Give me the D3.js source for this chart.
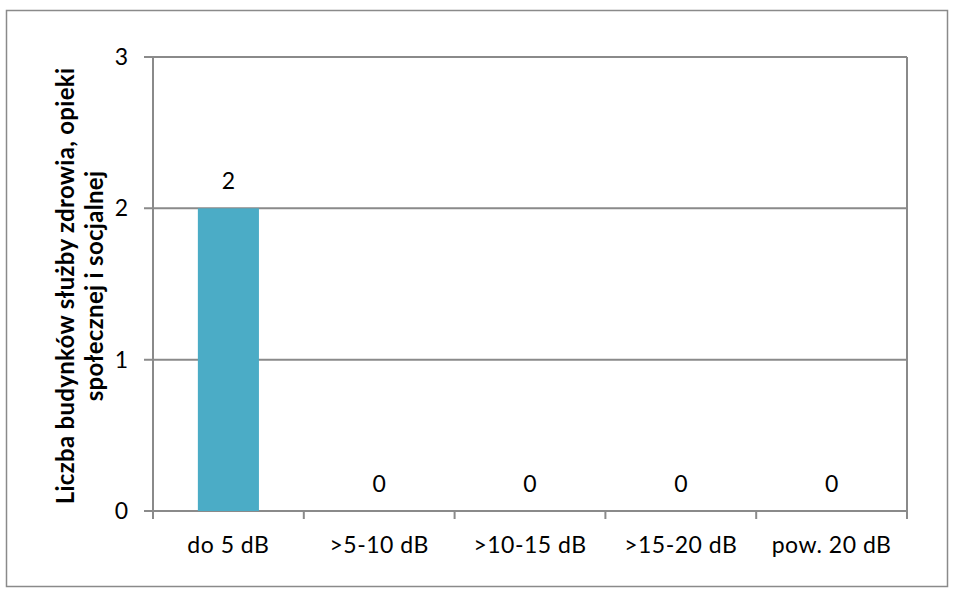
<!DOCTYPE html>
<html><head><meta charset="utf-8">
<script src="https://cdn.jsdelivr.net/npm/d3@7"></script>
<style>body{margin:0;background:#fff}svg{display:block}text{font-family:Lato,"Open Sans",sans-serif}</style>
</head><body>
<svg id="c" width="955" height="592"></svg>
<script>
const categories = ["do 5 dB", ">5-10 dB", ">10-15 dB", ">15-20 dB", "pow. 20 dB"];
const values = [2, 0, 0, 0, 0];
const yTicks = [0, 1, 2, 3];
const yTitle = ["Liczba budynków służby zdrowia, opieki", "społecznej i socjalnej"];

const svg = d3.select("#c");
const gray = "#8a8a8a";
const m = {l:153, t:57, r:907, b:511};
const fs = 23;

svg.append("rect").attr("x",6.5).attr("y",10.5).attr("width",941).attr("height",576)
  .attr("fill","none").attr("stroke",gray).attr("stroke-width",1.5);

const x = d3.scaleBand().domain(categories).range([m.l, m.r]).paddingInner(0).paddingOuter(0);
const y = d3.scaleLinear().domain([0,3]).range([m.b, m.t]);

// gridlines
svg.append("g").selectAll("line").data(yTicks).join("line")
  .attr("x1", m.l-9).attr("x2", m.r).attr("y1", d=>y(d)).attr("y2", d=>y(d))
  .attr("stroke", gray).attr("stroke-width",2);
// left axis
svg.append("line").attr("x1",m.l).attr("x2",m.l).attr("y1",m.t).attr("y2",m.b+8).attr("stroke",gray).attr("stroke-width",2);
// right border
svg.append("line").attr("x1",m.r).attr("x2",m.r).attr("y1",m.t).attr("y2",m.b).attr("stroke",gray).attr("stroke-width",2);
// x ticks at boundaries
const bounds = categories.map(c=>x(c)).concat([m.r]);
svg.append("g").selectAll("line").data(bounds).join("line")
  .attr("x1",d=>d).attr("x2",d=>d).attr("y1",m.b).attr("y2",m.b+8)
  .attr("stroke",gray).attr("stroke-width",2);

// bars
const bw = x.bandwidth()*0.405;
svg.append("g").selectAll("rect").data(values).join("rect")
  .attr("x",(d,i)=>x(categories[i])+x.bandwidth()/2-bw/2)
  .attr("width",bw)
  .attr("y",d=>y(d)).attr("height",d=>y(0)-y(d))
  .attr("fill","#4BACC6");

// y labels
svg.append("g").selectAll("text").data(yTicks).join("text")
  .attr("x", 128).attr("y", d=>y(d)+8).attr("text-anchor","end")
  .attr("font-size",fs).attr("fill","#000").text(d=>d);

// x labels
svg.append("g").selectAll("text").data(categories).join("text")
  .attr("x", d=>x(d)+x.bandwidth()/2).attr("y", 553).attr("text-anchor","middle")
  .attr("font-size",fs).attr("letter-spacing","0.5px").attr("fill","#000").text(d=>d);

// data labels
svg.append("g").selectAll("text").data(values).join("text")
  .attr("x",(d,i)=>x(categories[i])+x.bandwidth()/2).attr("y",d=>y(d)-19)
  .attr("text-anchor","middle").attr("font-size",fs).attr("fill","#000").text(d=>d);

// y title
const t = svg.append("text").attr("transform","translate(0,286) rotate(-90)")
  .attr("text-anchor","middle").attr("font-size",24).attr("font-weight","bold").attr("letter-spacing","0.3px");
t.append("tspan").attr("x",0).attr("y",74).text(yTitle[0]);
t.append("tspan").attr("x",0).attr("y",103).text(yTitle[1]);
</script>
</body></html>
